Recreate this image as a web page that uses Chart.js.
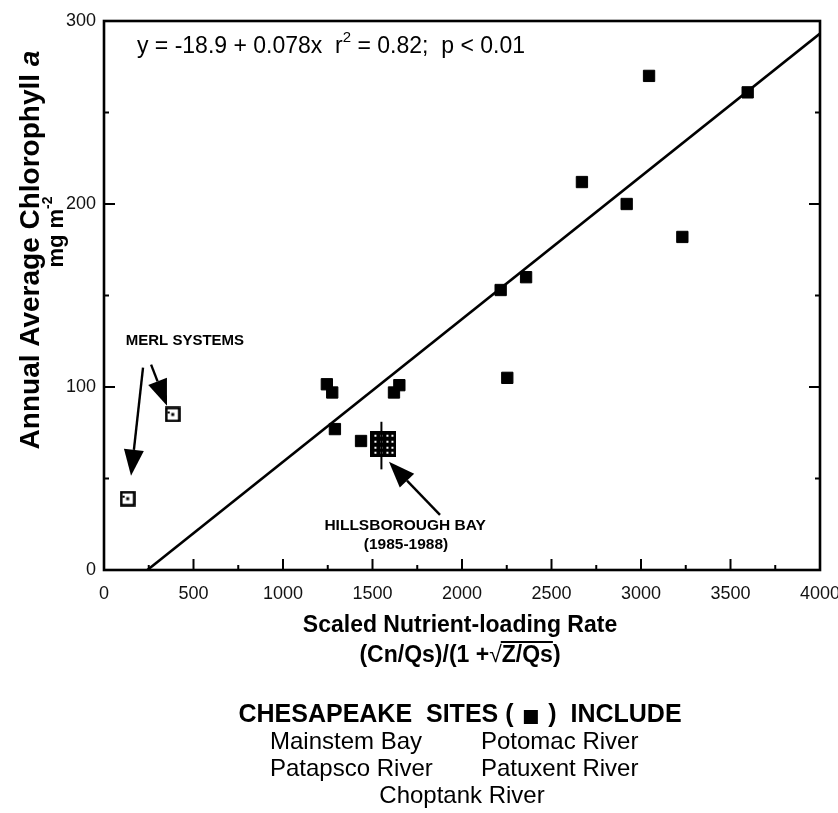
<!DOCTYPE html>
<html>
<head>
<meta charset="utf-8">
<script src="https://cdn.jsdelivr.net/npm/chart.js@4.4.1/dist/chart.umd.min.js"></script>
<style>
  html, body { margin: 0; background: #fff; }
  #wrap { width: 838px; height: 813px; }
</style>
</head>
<body>
<div id="wrap"><canvas id="chl"></canvas></div>
<script>
// Chesapeake sites (filled squares)
const chesX = [1245, 1275, 1290, 1436, 1620, 1650, 2216, 2253, 2358, 2670, 2920, 3045, 3231, 3596];
const chesY = [101.5, 97, 77, 70.5, 97, 101, 153, 105, 160, 212, 200, 270, 182, 261];
// MERL mesocosm systems (open squares)
const merlX = [132, 384];
const merlY = [39, 85];
// Hillsborough Bay 1985-1988 mean and range
const hillsX = [1561];
const hillsY = [69];
const hillsLow = [55];
const hillsHigh = [81];
// regression y = a + b x
const fitA = -18.9;
const fitB = 0.078;
// axis ticks
const xMajor = [500, 1000, 1500, 2000, 2500, 3000, 3500];
const xMinor = [250, 750, 1250, 1750, 2250, 2750, 3250, 3750];
const yMajor = [100, 200];
const yMinor = [50, 150, 250];
// callout arrows, in data units [x, y]
const arrows = [
  { from: [218, 110.6], to: [151, 51.5] },
  { from: [263, 112.2], to: [352, 89.8] },
  { from: [1877, 30.1], to: [1592, 59.1] }
];
const sitesRow1 = ['Mainstem Bay', 'Potomac River'];
const sitesRow2 = ['Patapsco River', 'Patuxent River'];
const sitesRow3 = ['Choptank River'];

const FF = '"Liberation Sans", Arial, Helvetica, sans-serif';

function makeMerlMarker() {
  const c = document.createElement('canvas');
  c.width = 16; c.height = 16;
  const g = c.getContext('2d');
  g.fillStyle = '#fff';
  g.fillRect(0, 0, 16, 16);
  g.strokeStyle = '#000';
  g.lineWidth = 2.6;
  g.strokeRect(1.5, 1.5, 13, 13);
  g.fillStyle = '#000';
  g.fillRect(6.5, 6.5, 3, 3);
  g.fillRect(3, 5, 2, 2);
  return c;
}

function makeHillsMarker() {
  const c = document.createElement('canvas');
  c.width = 26; c.height = 26;
  const g = c.getContext('2d');
  g.fillStyle = '#000';
  g.fillRect(0, 0, 26, 26);
  g.fillStyle = '#fff';
  [5, 11, 17, 22].forEach(px => {
    [5, 11, 17, 22].forEach(py => g.fillRect(px - 1, py - 1, 2, 2));
  });
  return c;
}

// draws a run of text pieces [{t, font, dy}] starting at x
function drawRun(ctx, parts, x, y, align) {
  let total = 0;
  parts.forEach(p => { ctx.font = p.font; p.w = ctx.measureText(p.t).width; total += p.w; });
  let cx = align === 'center' ? x - total / 2 : x;
  parts.forEach(p => {
    ctx.font = p.font;
    ctx.fillText(p.t, cx, y + (p.dy || 0));
    p.x = cx;
    cx += p.w;
  });
  return parts;
}

const decor = {
  id: 'decor',
  afterDraw(chart) {
    const ctx = chart.ctx;
    const xs = chart.scales.x, ys = chart.scales.y;
    const a = chart.chartArea;
    ctx.save();
    ctx.strokeStyle = '#000';
    ctx.fillStyle = '#000';
    ctx.lineCap = 'butt';

    // frame
    ctx.lineWidth = 2.6;
    ctx.strokeRect(a.left, a.top, a.right - a.left, a.bottom - a.top);

    // inward ticks
    ctx.lineWidth = 2;
    const tick = (x1, y1, x2, y2) => { ctx.beginPath(); ctx.moveTo(x1, y1); ctx.lineTo(x2, y2); ctx.stroke(); };
    xMajor.forEach(v => { const p = xs.getPixelForValue(v); tick(p, a.bottom, p, a.bottom - 11); });
    xMinor.forEach(v => { const p = xs.getPixelForValue(v); tick(p, a.bottom, p, a.bottom - 5); });
    yMajor.forEach(v => {
      const p = ys.getPixelForValue(v);
      tick(a.left, p, a.left + 11, p);
      tick(a.right, p, a.right - 11, p);
    });
    yMinor.forEach(v => {
      const p = ys.getPixelForValue(v);
      tick(a.left, p, a.left + 5, p);
      tick(a.right, p, a.right - 5, p);
    });

    // Hillsborough range bar
    ctx.lineWidth = 2;
    hillsX.forEach((v, i) => {
      const px = xs.getPixelForValue(v) - 2;
      tick(px, ys.getPixelForValue(hillsHigh[i]), px, ys.getPixelForValue(hillsLow[i]));
    });

    // arrows
    arrows.forEach(ar => {
      const x1 = xs.getPixelForValue(ar.from[0]), y1 = ys.getPixelForValue(ar.from[1]);
      const x2 = xs.getPixelForValue(ar.to[0]), y2 = ys.getPixelForValue(ar.to[1]);
      const ang = Math.atan2(y2 - y1, x2 - x1);
      const len = 26, hw = 10;
      const bx = x2 - len * Math.cos(ang), by = y2 - len * Math.sin(ang);
      ctx.lineWidth = 2.4;
      tick(x1, y1, bx, by);
      ctx.beginPath();
      ctx.moveTo(x2, y2);
      ctx.lineTo(bx + hw * Math.sin(ang), by - hw * Math.cos(ang));
      ctx.lineTo(bx - hw * Math.sin(ang), by + hw * Math.cos(ang));
      ctx.closePath();
      ctx.fill();
    });

    ctx.textBaseline = 'middle';
    ctx.textAlign = 'left';

    // callout labels
    const lab = (t, xv, yv, font) => {
      ctx.font = font;
      ctx.textAlign = 'center';
      ctx.fillText(t, xs.getPixelForValue(xv), ys.getPixelForValue(yv));
      ctx.textAlign = 'left';
    };
    lab('MERL SYSTEMS', 452, 125.3, 'bold 15px ' + FF);
    lab('HILLSBOROUGH BAY', 1682, 24.1, 'bold 15.5px ' + FF);
    lab('(1985-1988)', 1687, 13.7, 'bold 15.5px ' + FF);

    // regression statement
    const ef = '23px ' + FF, es = '15px ' + FF;
    drawRun(ctx, [
      { t: 'y = -18.9 + 0.078x  r', font: ef },
      { t: '2', font: es, dy: -9 },
      { t: ' = 0.82;  p < 0.01', font: ef }
    ], xs.getPixelForValue(184), ys.getPixelForValue(286), 'left');

    // x-axis title
    const bf = 'bold 23px ' + FF;
    ctx.font = bf;
    ctx.textAlign = 'center';
    ctx.fillText('Scaled Nutrient-loading Rate', 460, 626);
    ctx.textAlign = 'left';
    const p2 = drawRun(ctx, [
      { t: '(Cn/Qs)/(1 +', font: bf },
      { t: '\u221A', font: '23px ' + FF },
      { t: 'Z/Qs', font: bf },
      { t: ')', font: bf }
    ], 460, 656, 'center');
    ctx.lineWidth = 1.8;
    tick(p2[1].x + p2[1].w - 1, 642, p2[2].x + p2[2].w, 642);

    // y-axis title
    ctx.save();
    ctx.translate(31, 250);
    ctx.rotate(-Math.PI / 2);
    drawRun(ctx, [
      { t: 'Annual Average Chlorophyll ', font: 'bold 28px ' + FF },
      { t: 'a', font: 'italic bold 28px ' + FF }
    ], 0, 0, 'center');
    ctx.restore();
    ctx.save();
    ctx.translate(57, 232);
    ctx.rotate(-Math.PI / 2);
    drawRun(ctx, [
      { t: 'mg m', font: 'bold 22px ' + FF },
      { t: '-2', font: 'bold 14px ' + FF, dy: -9 }
    ], 0, 0, 'center');
    ctx.restore();

    // site list
    const hf = 'bold 25px ' + FF;
    const parts = drawRun(ctx, [
      { t: 'CHESAPEAKE  SITES (', font: hf },
      { t: '     ', font: hf },
      { t: ')  INCLUDE', font: hf }
    ], 460, 715, 'center');
    const sq = parts[1];
    ctx.fillRect(sq.x + sq.w / 2 - 7, 715 - 5, 14, 14);

    const rf = '24px ' + FF;
    ctx.font = rf;
    ctx.fillText(sitesRow1[0], 270, 742);
    ctx.fillText(sitesRow1[1], 481, 742);
    ctx.fillText(sitesRow2[0], 270, 769);
    ctx.fillText(sitesRow2[1], 481, 769);
    ctx.textAlign = 'center';
    ctx.fillText(sitesRow3[0], 462, 796);

    ctx.restore();
  }
};

const fitX0 = -fitA / fitB;
const fitX1 = 4000;

new Chart(document.getElementById('chl'), {
  type: 'scatter',
  data: {
    datasets: [
      {
        label: 'Regression',
        type: 'line',
        data: [{ x: fitX0, y: fitA + fitB * fitX0 }, { x: fitX1, y: fitA + fitB * fitX1 }],
        borderColor: '#000',
        borderWidth: 2.6,
        pointRadius: 0,
        fill: false
      },
      {
        label: 'Chesapeake sites',
        data: chesX.map((x, i) => ({ x, y: chesY[i] })),
        pointStyle: 'rect',
        pointRadius: 8,
        backgroundColor: '#000',
        borderColor: '#000',
        borderWidth: 1
      },
      {
        label: 'MERL systems',
        data: merlX.map((x, i) => ({ x, y: merlY[i] })),
        pointStyle: makeMerlMarker()
      },
      {
        label: 'Hillsborough Bay',
        data: hillsX.map((x, i) => ({ x, y: hillsY[i] })),
        pointStyle: makeHillsMarker()
      }
    ]
  },
  options: {
    responsive: true,
    maintainAspectRatio: false,
    animation: false,
    layout: { padding: { left: 0, right: 18, top: 21, bottom: 0 } },
    plugins: { legend: { display: false }, tooltip: { enabled: false } },
    scales: {
      x: {
        type: 'linear',
        min: 0,
        max: 4000,
        grid: { display: false, drawTicks: false },
        border: { display: false },
        ticks: { stepSize: 500, color: '#111', padding: 13, maxRotation: 0, autoSkip: false,
                 font: { family: FF, size: 18 }, callback: v => String(v) },
        afterFit: s => { s.height = 243; s.paddingLeft = 0; s.paddingRight = 0; }
      },
      y: {
        min: 0,
        max: 300,
        grid: { display: false, drawTicks: false },
        border: { display: false },
        ticks: { stepSize: 100, color: '#111', padding: 8, font: { family: FF, size: 18 } },
        afterFit: s => { s.width = 104; s.paddingTop = 0; s.paddingBottom = 0; }
      }
    }
  },
  plugins: [decor]
});
</script>
</body>
</html>
